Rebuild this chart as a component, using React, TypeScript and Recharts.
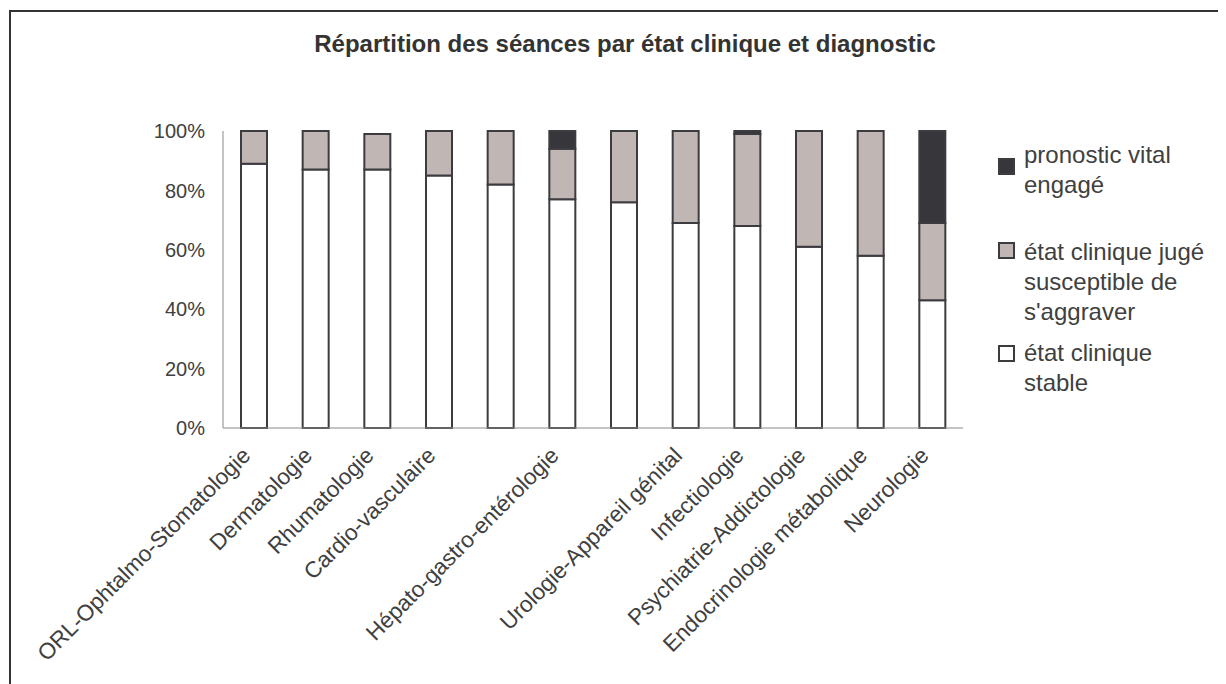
import React from 'react';
import { BarChart, Bar, XAxis, YAxis } from 'recharts';

// diagnostics (two labels are hidden in the source image, left blank)
const categories = [
  'ORL-Ophtalmo-Stomatologie',
  'Dermatologie',
  'Rhumatologie',
  'Cardio-vasculaire',
  '',
  'Hépato-gastro-entérologie',
  '',
  'Urologie-Appareil génital',
  'Infectiologie',
  'Psychiatrie-Addictologie',
  'Endocrinologie métabolique',
  'Neurologie',
];

// % of sessions
const stable = [89, 87, 87, 85, 82, 77, 76, 69, 68, 61, 58, 43];
const aggravation = [11, 13, 12, 15, 18, 17, 24, 31, 31, 39, 42, 26];
const vital = [0, 0, 0, 0, 0, 6, 0, 0, 1, 0, 0, 31];

const yTicks = [0, 20, 40, 60, 80, 100];

const series = [
  { key: 'stable', name: 'état clinique stable', fill: '#ffffff' },
  { key: 'aggravation', name: "état clinique jugé susceptible de s'aggraver", fill: '#c0b6b3' },
  { key: 'vital', name: 'pronostic vital engagé', fill: '#37363b' },
];

const data = categories.map((name, i) => ({
  name,
  stable: stable[i],
  aggravation: aggravation[i],
  vital: vital[i],
}));

const FONT = '"Liberation Sans", Arial, Helvetica, sans-serif';
const TEXT = '#404040';
const STROKE = '#3c3b40';

const XTick = (props: any) => {
  const { x, y, payload } = props;
  const ax = x - 2;
  const ay = y + 21;
  return (
    <text
      x={ax}
      y={ay}
      transform={`rotate(-45 ${ax} ${ay})`}
      textAnchor="end"
      fontSize={22.5}
      fontFamily={FONT}
      fill={TEXT}
    >
      {payload.value}
    </text>
  );
};

// legend entries, top to bottom: block top and square offset
const legendTops = [132, 229, 330];
const squareOffsets = [18, 5, 7];

const ChartLegend = () => {
  const items = [...series].reverse();
  return (
    <>
      {items.map((s, i) => (
        <div
          key={s.key}
          style={{
            position: 'absolute',
            left: 990,
            top: legendTops[i],
            display: 'flex',
            alignItems: 'flex-start',
          }}
        >
          <div
            style={{
              width: 13,
              height: 13,
              marginTop: squareOffsets[i],
              marginRight: 9,
              background: s.fill,
              border: `2px solid ${STROKE}`,
              flexShrink: 0,
            }}
          />
          <div style={{ width: 186, fontSize: 24, lineHeight: '30px', color: TEXT }}>{s.name}</div>
        </div>
      ))}
    </>
  );
};

export default function App() {
  return (
    <div
      style={{
        position: 'relative',
        width: 1218,
        height: 676,
        overflow: 'hidden',
        fontFamily: FONT,
        background: '#fff',
      }}
    >
      <div
        style={{
          position: 'absolute',
          left: 1,
          top: 2,
          width: 2000,
          height: 2000,
          borderTop: '2px solid #333',
          borderLeft: '2px solid #333',
        }}
      />
      <div
        style={{
          position: 'absolute',
          left: 0,
          width: 1234,
          top: 24,
          textAlign: 'center',
          fontSize: 24,
          lineHeight: '24px',
          fontWeight: 'bold',
          color: '#333',
        }}
      >
        Répartition des séances par état clinique et diagnostic
      </div>
      <div style={{ position: 'absolute', left: 0, top: 0 }}>
        <BarChart
          width={1218}
          height={676}
          data={data}
          margin={{ top: 123, right: 263, bottom: 56, left: 135 }}
        >
          <XAxis
            dataKey="name"
            height={200}
            interval={0}
            tickLine={false}
            stroke="#8a8a8a"
            tick={<XTick />}
          />
          <YAxis
            width={80}
            domain={[0, 100]}
            ticks={yTicks}
            tickFormatter={(v) => `${v}%`}
            tickLine={false}
            tickSize={0}
            tickMargin={18}
            stroke="#8a8a8a"
            tick={{ fill: TEXT, fontSize: 20, fontFamily: FONT }}
          />
          {series.map((s) => (
            <Bar
              key={s.key}
              dataKey={s.key}
              name={s.name}
              stackId="a"
              fill={s.fill}
              stroke={STROKE}
              strokeWidth={2}
              barSize={26}
              isAnimationActive={false}
            />
          ))}
        </BarChart>
      </div>
      <ChartLegend />
    </div>
  );
}
